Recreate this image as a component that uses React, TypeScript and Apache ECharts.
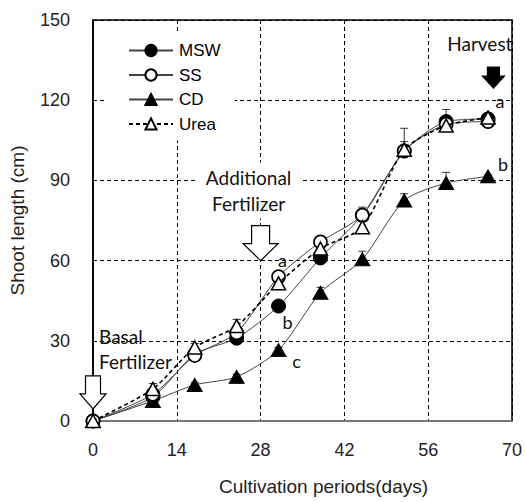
import React, { useEffect, useRef } from "react";
import * as echarts from "echarts";

const days = [0, 10, 17, 24, 31, 38, 45, 52, 59, 66];
const msw = [0, 9, 25, 31, 43, 61, 77, 101, 112, 113];
const ss = [0, 10, 24.5, 33, 54, 67, 77, 101, 111, 112];
const cd = [0, 7.5, 13.5, 16.5, 26.5, 48, 60.5, 82.5, 89, 91.5];
const urea = [0, 12, 27.5, 35.5, 51.5, 64.5, 72.5, 101.5, 110.5, 113.5];

const mswErr = [0, 1, 1, 1, 1, 1, 1, 2, 2, 1];
const ssErr = [0, 1, 1, 1.5, 1.5, 1.5, 3, 8.5, 3, 1.5];
const cdErr = [0, 1, 1, 1, 1, 2, 3, 2.5, 4, 0.5];
const ureaErr = [0, 2, 1.5, 2.5, 1.5, 1.5, 2, 3, 6, 1];

const xTicks = [0, 14, 28, 42, 56, 70];
const yTicks = [0, 30, 60, 90, 120, 150];

const seriesNames = ["MSW", "SS", "CD", "Urea"];

const AXIS_FONT = "'Liberation Sans', Arial, sans-serif";
const NOTE_FONT = "Lato, 'Liberation Sans', sans-serif";

function pairs(vals: number[]) {
  return days.map((d, i) => [d, vals[i]]);
}
function errPairs(vals: number[], errs: number[]) {
  return days.map((d, i) => [d, vals[i], errs[i]]);
}

function errorSeries(name: string, vals: number[], errs: number[]) {
  return {
    type: "custom",
    name: name + "-err",
    silent: true,
    z: 1,
    data: errPairs(vals, errs),
    renderItem: (params: any, api: any) => {
      const e = api.value(2);
      if (!e) return null;
      const p0 = api.coord([api.value(0), api.value(1)]);
      const p1 = api.coord([api.value(0), api.value(1) + e]);
      const cap = 4;
      return {
        type: "group",
        children: [
          { type: "line", shape: { x1: p0[0], y1: p0[1], x2: p1[0], y2: p1[1] }, style: { stroke: "#333", lineWidth: 1 } },
          { type: "line", shape: { x1: p1[0] - cap, y1: p1[1], x2: p1[0] + cap, y2: p1[1] }, style: { stroke: "#333", lineWidth: 1 } },
        ],
      };
    },
  };
}

function openArrow(tip: number[], hw: number, hh: number, sw: number, total: number, fill: string) {
  const [x, y] = tip;
  return {
    type: "polygon",
    z: 20,
    shape: {
      points: [
        [x, y],
        [x - hw, y - hh],
        [x - sw, y - hh],
        [x - sw, y - total],
        [x + sw, y - total],
        [x + sw, y - hh],
        [x + hw, y - hh],
      ],
    },
    style: { fill, stroke: "#000", lineWidth: 1.2 },
  };
}

export default function App() {
  const ref = useRef<HTMLDivElement>(null);
  useEffect(() => {
    document.body.style.margin = "0";
    const chart = echarts.init(ref.current!, undefined, { renderer: "svg" });
    const gridLine = { show: true, lineStyle: { color: "#000", type: [4, 3], width: 1 } };
    const option: any = {
      animation: false,
      backgroundColor: "#fff",
      grid: { left: 91, right: 13, top: 20, bottom: 81, show: true, borderColor: "#000", borderWidth: 1.5, backgroundColor: "transparent" },
      xAxis: {
        type: "value",
        min: xTicks[0],
        max: xTicks[xTicks.length - 1],
        interval: 14,
        name: "Cultivation periods(days)",
        nameLocation: "middle",
        nameGap: 56,
        nameTextStyle: { fontFamily: AXIS_FONT, fontSize: 19, color: "#222", padding: [0, 0, 0, 42] },
        axisLine: { show: true, lineStyle: { color: "#777", width: 2 } },
        axisTick: { show: false },
        axisLabel: { fontFamily: AXIS_FONT, fontSize: 18, color: "#222", margin: 20 },
        splitLine: gridLine,
      },
      yAxis: {
        type: "value",
        min: yTicks[0],
        max: yTicks[yTicks.length - 1],
        interval: 30,
        name: "Shoot length (cm)",
        nameLocation: "middle",
        nameGap: 66,
        nameTextStyle: { fontFamily: AXIS_FONT, fontSize: 19, color: "#222" },
        axisLine: { show: true, lineStyle: { color: "#000", width: 1.5 } },
        axisTick: { show: false },
        axisLabel: { fontFamily: AXIS_FONT, fontSize: 18, color: "#222", margin: 23 },
        splitLine: gridLine,
      },
      legend: {
        data: seriesNames,
        orient: "vertical",
        left: 105,
        top: 34,
        padding: [8, 14, 8, 23],
        itemWidth: 44,
        itemHeight: 14,
        itemGap: 7.5,
        backgroundColor: "#fff",
        textStyle: { fontFamily: AXIS_FONT, fontSize: 17, color: "#000", padding: [0, 0, 0, 1] },
      },
      series: [
        errorSeries("MSW", msw, mswErr),
        errorSeries("SS", ss, ssErr),
        errorSeries("CD", cd, cdErr),
        errorSeries("Urea", urea, ureaErr),
        {
          type: "line", name: "MSW", data: pairs(msw), smooth: 0.25, z: 3,
          symbol: "circle", symbolSize: 14,
          lineStyle: { color: "#444", width: 1 },
          itemStyle: { color: "#000", borderColor: "#000", borderWidth: 1 },
        },
        {
          type: "line", name: "SS", data: pairs(ss), smooth: 0.25, z: 4,
          symbol: "circle", symbolSize: 13,
          lineStyle: { color: "#444", width: 1 },
          itemStyle: { color: "#fff", borderColor: "#000", borderWidth: 1.6 },
        },
        {
          type: "line", name: "CD", data: pairs(cd), smooth: 0.25, z: 3,
          symbol: "triangle", symbolSize: [15, 13],
          lineStyle: { color: "#444", width: 1 },
          itemStyle: { color: "#000", borderColor: "#000", borderWidth: 1 },
        },
        {
          type: "line", name: "Urea", data: pairs(urea), smooth: 0.25, z: 5,
          symbol: "triangle", symbolSize: [14, 13],
          lineStyle: { color: "#000", width: 1.6, type: [4, 3] },
          itemStyle: { color: "#fff", borderColor: "#000", borderWidth: 1.5 },
        },
      ],
    };
    chart.setOption(option);

    const px = (d: number, v: number) => chart.convertToPixel({ xAxisIndex: 0, yAxisIndex: 0 }, [d, v]) as number[];
    const addTip = px(28, 60);
    const basalTip = px(0, 4.5);
    const harvTip = px(66.9, 124.5);
    const ss31 = px(31, ss[4]);
    const msw31 = px(31, msw[4]);
    const cd31 = px(31, cd[4]);
    const urea66 = px(66, urea[9]);
    const cd66 = px(66, cd[9]);
    const letter = (p: number[], dx: number, dy: number, t: string) => ({
      type: "text", z: 20, x: p[0] + dx, y: p[1] + dy,
      style: { text: t, fontFamily: NOTE_FONT, fontSize: 18, fill: "#111", align: "center", verticalAlign: "middle" },
    });

    chart.setOption({
      graphic: [
        openArrow(addTip, 17.5, 17, 9, 35, "#fff"),
        openArrow(basalTip, 13, 15, 7.5, 33, "#fff"),
        openArrow(harvTip, 11, 12, 6, 21, "#000"),
        {
          type: "text", z: 19, x: addTip[0] - 12, y: addTip[1] - 70,
          style: {
            text: "Additional\nFertilizer", fontFamily: NOTE_FONT, fontSize: 19, lineHeight: 26, fill: "#111",
            align: "center", verticalAlign: "middle", backgroundColor: "#fff", padding: [2, 10, 2, 10],
          },
        },
        {
          type: "text", z: 19, x: basalTip[0] + 6, y: basalTip[1] - 60,
          style: { text: "Basal\nFertilizer", fontFamily: NOTE_FONT, fontSize: 19, lineHeight: 25, fill: "#111", align: "left", verticalAlign: "middle" },
        },
        {
          type: "text", z: 19, x: harvTip[0] + 19, y: harvTip[1] - 45,
          style: { text: "Harvest", fontFamily: NOTE_FONT, fontSize: 19, fill: "#111", align: "right", verticalAlign: "middle" },
        },
        letter(ss31, 4, -17, "a"),
        letter(msw31, 9, 16, "b"),
        letter(cd31, 18, 11, "c"),
        letter(urea66, 12, -17, "a"),
        letter(cd66, 15, -12, "b"),
      ],
    });
    return () => chart.dispose();
  }, []);
  return <div ref={ref} style={{ width: 525, height: 502 }} />;
}
